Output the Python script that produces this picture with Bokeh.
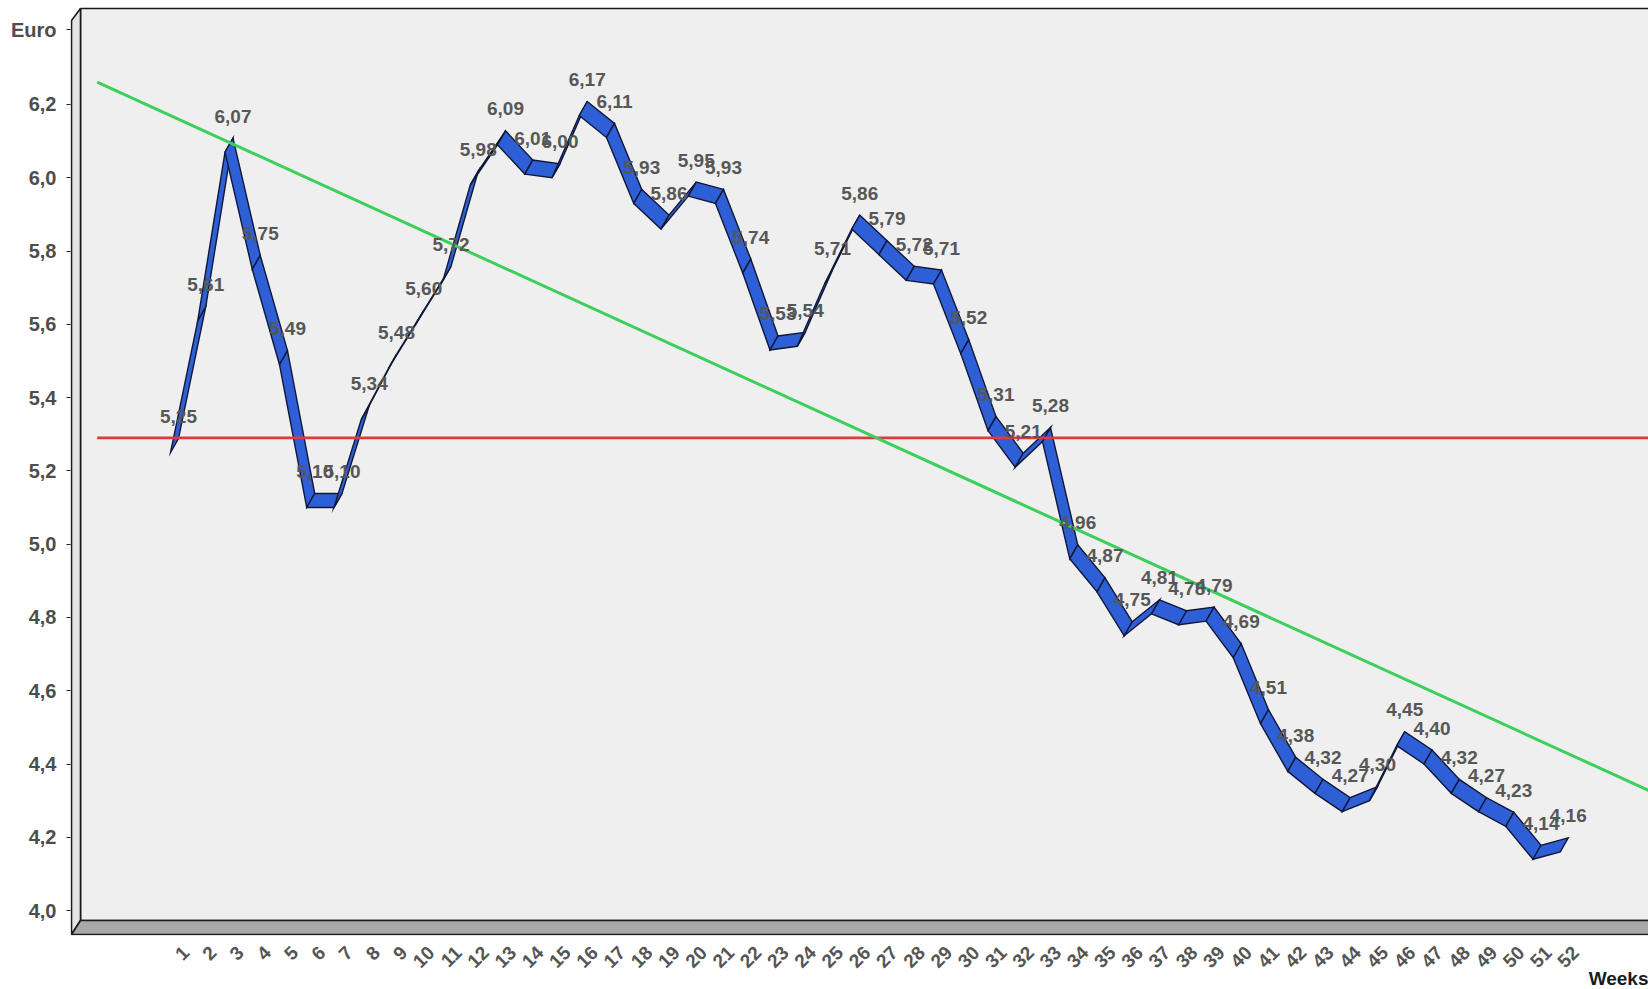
import math
from bokeh.plotting import figure
from bokeh.models import Range1d, FixedTicker, Title, ColumnDataSource
from bokeh.embed import file_html
from bokeh.resources import INLINE
from bokeh.core.properties import value

# ---------------- data ----------------
weeks = list(range(1, 53))
prices = [5.25, 5.61, 6.07, 5.75, 5.49, 5.10, 5.10, 5.34, 5.48, 5.60,
          5.72, 5.98, 6.09, 6.01, 6.00, 6.17, 6.11, 5.93, 5.86, 5.95,
          5.93, 5.74, 5.53, 5.54, 5.71, 5.86, 5.79, 5.72, 5.71, 5.52,
          5.31, 5.21, 5.28, 4.96, 4.87, 4.75, 4.81, 4.78, 4.79, 4.69,
          4.51, 4.38, 4.32, 4.27, 4.30, 4.45, 4.40, 4.32, 4.27, 4.23,
          4.14, 4.16]
average_price = 5.29
trend_weeks = [-1.69, 55.24]
trend_prices = [6.261, 4.328]
y_tick_values = [4.0, 4.2, 4.4, 4.6, 4.8, 5.0, 5.2, 5.4, 5.6, 5.8, 6.0, 6.2]
y_tick_labels = ["4,0", "4,2", "4,4", "4,6", "4,8", "5,0", "5,2", "5,4", "5,6", "5,8", "6,0", "6,2"]
week_labels = [str(w) for w in weeks]
price_labels = [("%.2f" % v).replace(".", ",") for v in prices]
y_title = "Euro"
x_title = "Weeks"

# ---------------- layout ----------------
W, H = 1648, 989
BORDER_LEFT, BORDER_BOTTOM = 70, 54
FRAME_W, FRAME_H = W - BORDER_LEFT, H - BORDER_BOTTOM
PX_PER_WEEK = 27.25
PX_PER_EURO = 366.4
X0 = -2.6697
X1 = X0 + FRAME_W / PX_PER_WEEK
Y1 = 6.4838
Y0 = Y1 - FRAME_H / PX_PER_EURO
Y_TITLE_POS = Y1 - 29 / PX_PER_EURO

def px_x(n):
    return n / PX_PER_WEEK

def px_y(n):
    return n / PX_PER_EURO

FONT = "Liberation Sans"

p = figure(width=W, height=H, output_backend="svg", toolbar_location=None,
           title=None, x_range=Range1d(X0, X1), y_range=Range1d(Y0, Y1),
           min_border_left=BORDER_LEFT, min_border_right=0, min_border_top=0,
           min_border_bottom=BORDER_BOTTOM)
p.outline_line_color = None
p.background_fill_color = "white"
p.border_fill_color = "white"
p.xgrid.visible = False
p.ygrid.visible = False

# ---------------- 3D walls ----------------
WALL_DX, WALL_TOP, WALL_FLOOR, WALL_LEFT_TOP = 10, 8, 15, 20
back_left = X0 + px_x(WALL_DX)
back_bottom = Y0 + px_y(WALL_FLOOR)
back_top = Y1 - px_y(WALL_TOP)
p.quad(left=[back_left], right=[X1 + 1], bottom=[back_bottom], top=[back_top],
       fill_color="#efefef", line_color="#1a1a1a", line_width=1.6)
# left wall
p.patch([X0 + px_x(1), back_left, back_left, X0 + px_x(1)],
        [Y1 - px_y(WALL_LEFT_TOP), back_top, back_bottom, Y0 + px_y(1)],
        fill_color="#e3e3e3", line_color="#1a1a1a", line_width=1.6)
# floor
p.patch([X0 + px_x(1), back_left, X1 + 1, X1 + 1],
        [Y0 + px_y(1), back_bottom, back_bottom, Y0 + px_y(1)],
        fill_color="#a8a8a8", line_color="#1a1a1a", line_width=1.6)

# ---------------- ribbon ----------------
RIB_DX, RIB_DY = 8, 14
xs, ys = [], []
for i in range(len(weeks) - 1):
    xa, xb = weeks[i], weeks[i + 1]
    ya, yb = prices[i], prices[i + 1]
    xs.append([xa, xb, xb + px_x(RIB_DX), xa + px_x(RIB_DX)])
    ys.append([ya, yb, yb + px_y(RIB_DY), ya + px_y(RIB_DY)])
p.patches(xs, ys, fill_color="#2f5fd6", line_color="#101838", line_width=1.4,
          line_join="miter")

# ---------------- reference lines ----------------
p.line([trend_weeks[0], X1 + 1], [average_price, average_price],
       line_color="#e23a3a", line_width=2.6)
p.line(trend_weeks, trend_prices, line_color="#3ccf5a", line_width=3)

# ---------------- item labels ----------------
src = ColumnDataSource(dict(x=weeks, y=prices, t=price_labels))
p.text(x="x", y="y", text="t", source=src, x_offset=8, y_offset=-36,
       text_align="center", text_baseline="middle",
       text_font=value(FONT), text_font_style="bold",
       text_font_size="19px", text_color="#575757")

# ---------------- axes ----------------
yax = p.yaxis[0]
yax.ticker = FixedTicker(ticks=y_tick_values + [Y_TITLE_POS])
overrides = {v: s for v, s in zip(y_tick_values, y_tick_labels)}
overrides[Y_TITLE_POS] = y_title
yax.major_label_overrides = overrides
yax.axis_line_color = None
yax.minor_tick_line_color = None
yax.major_tick_line_color = "#222222"
yax.major_tick_out = 4
yax.major_tick_in = 0
yax.major_label_standoff = 10
yax.major_label_text_font = FONT
yax.major_label_text_font_style = "bold"
yax.major_label_text_font_size = "20px"
yax.major_label_text_color = "#4d4d4d"

xax = p.xaxis[0]
tick_pos = [w + 0.5625 for w in weeks]
xax.ticker = FixedTicker(ticks=tick_pos)
xax.major_label_overrides = {t: s for t, s in zip(tick_pos, week_labels)}
xax.major_label_orientation = math.pi / 4
xax.axis_line_color = None
xax.major_tick_line_color = None
xax.minor_tick_line_color = None
xax.major_tick_out = 0
xax.major_tick_in = 0
xax.major_label_standoff = 14
xax.major_label_text_font = FONT
xax.major_label_text_font_style = "bold"
xax.major_label_text_font_size = "19px"
xax.major_label_text_color = "#555555"

p.add_layout(Title(text=x_title, align="right", vertical_align="bottom", text_font=FONT,
                   text_font_style="bold", text_font_size="19px", text_color="#1a1a1a",
                   standoff=-22, offset=0),
             "below")

open("out.html", "w").write(file_html(p, INLINE))
